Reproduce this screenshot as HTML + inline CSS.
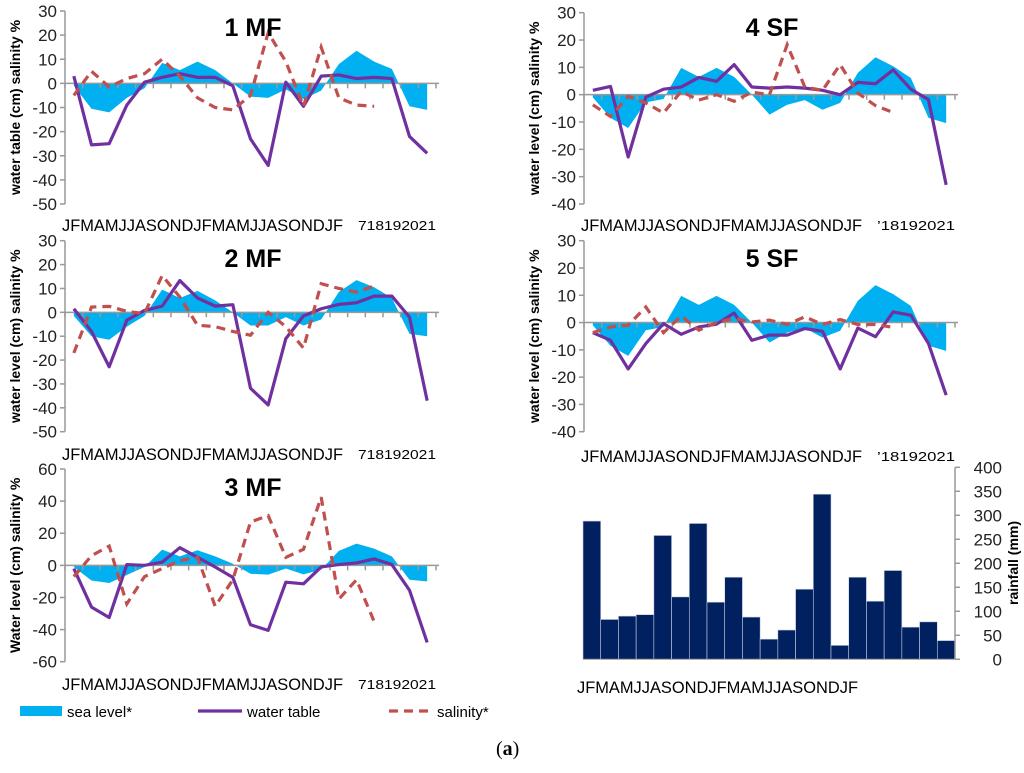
<!DOCTYPE html>
<html><head><meta charset="utf-8"><style>
body{margin:0;background:#fff;width:1024px;height:768px;overflow:hidden}
svg{font-family:"Liberation Sans",sans-serif}
</style></head><body>
<svg id="s" width="1024" height="768"></svg>
<script>
const monthLabel="JFMAMJJASONDJFMAMJJASONDJF";
const p1Sea=[-1,-10.5,-12,-6,-2,8.5,5.5,9,5.5,0,-5.5,-6,-2.5,-6.5,-3,8,13.5,9,6,-9.5,-11];
const p1Water=[3,-25.5,-25,-9,0.5,2.5,4,2.5,2.5,-1,-23,-34,0.5,-9.5,3,3.5,2,2.5,2,-22,-29];
const p1Sal=[-5,5,-1.5,2,4,10,3,-6,-10,-11,-5,21,9,-9.5,15,-6,-9,-9.5];
const p2Sea=[-1.5,-10,-11.5,-6,-1.5,9.5,6,9,5,0,-5.5,-5.5,-2,-5.5,-3,8.5,13.5,10.5,6,-9,-10];
const p2Water=[1.5,-8,-22.8,-3.3,0.8,2.6,13.3,6,2.6,3.2,-31.8,-38.8,-11,-1.5,1.5,3.3,4,6.8,6.8,-2,-37];
const p2Sal=[-17,2.2,2.5,0.4,-0.5,15.4,6.4,-5.4,-6,-8,-9.6,0,-6,-15,12,10,8.5,11];
const p3Sea=[-1,-9.4,-11,-6,-1,9.8,5.6,9.4,5.6,1,-5.2,-5.8,-2,-5.6,-2.7,9,13.5,10.4,5.6,-9,-10];
const p3Water=[-2,-26,-32.5,0.5,0,2,11,5,-1,-7.5,-37,-40.5,-10.5,-11.5,-1,0.5,1.5,4,0.5,-15.5,-48];
const p3Sal=[-7,6,12,-24,-7,-2,3,5,-25.5,-9,27,31,5,10,42.5,-21,-9,-35];
const p4Sea=[-1,-8.5,-12.2,-2.8,-1.6,9.8,6.5,9.8,6.5,0,-7.3,-3.7,-2,-5.5,-3,8,13.7,10.4,6.1,-8.5,-10.4];
const p4Water=[1.6,3,-22.8,-0.9,2,2.8,6.3,4.9,11,2.8,2.4,2.8,2.4,1.6,0,4.5,4,9.1,2,-1.8,-33];
const p4Sal=[-3.7,-8,-0.6,-3,-6.7,1.2,-2,0,-2.4,0.9,0,18.3,2.8,1.6,11,0.6,-4,-6.5];
const p5Sea=[-1,-8.5,-12.2,-2.8,-1.6,9.8,6.5,9.8,6.5,0,-7.3,-3.7,-2,-5.5,-3,8,13.7,10.4,6.1,-8.5,-10.4];
const p5Water=[-3.7,-6.5,-17,-7.7,-0.4,-4.3,-1.6,-0.6,3.5,-6.5,-4.6,-4.6,-2.2,-3.2,-17,-2,-5.2,3.9,2.7,-7.7,-26.6];
const p5Sal=[-3.7,-1.6,-1,5.7,-3.7,2.4,-2.8,0,1.5,0.2,0.9,-0.7,2.1,-0.7,1.1,-0.7,-0.7,-1.8];
const rainfall=[288,83,90,93,258,130,283,119,171,88,42,61,146,344,29,171,121,185,67,78,39];
const rainTicks=[0,50,100,150,200,250,300,350,400];

const S=document.getElementById('s');const NS='http://www.w3.org/2000/svg';
function mk(t,a,txt){const e=document.createElementNS(NS,t);for(const k in a)e.setAttribute(k,a[k]);if(txt!=null)e.textContent=txt;S.appendChild(e);return e;}

function panel(o){
  const N=21,x0=o.x0,x1=o.x1,bw=(x1-x0)/N;
  const Y=v=>o.yTop+(o.max-v)/(o.max-o.min)*(o.yBot-o.yTop);
  const X=i=>x0+bw*(i+0.5);
  // sea area
  let d='M'+X(0)+','+Y(0);o.sea.forEach((v,i)=>d+=' L'+X(i)+','+Y(v));d+=' L'+X(N-1)+','+Y(0)+' Z';
  let e=mk('path',{d:d,fill:'#00B0F0'});
  
  
  // axes
  e=mk('line',{x1:x0,y1:o.yTop,x2:x0,y2:o.yBot,stroke:'#999','stroke-width':1.5});
  
  
  for(let v=o.min;v<=o.max;v+=o.step){
    mk('line',{x1:x0-5,y1:Y(v),x2:x0,y2:Y(v),stroke:'#999','stroke-width':1.5});
    e=mk('text',{x:x0-8,y:Y(v)+6,'text-anchor':'end','font-size':17,fill:'#222'},v);
    
    
  }
  e=mk('line',{x1:x0,y1:Y(0),x2:x1+3,y2:Y(0),stroke:'#999','stroke-width':1.5});
  
  
  for(let i=0;i<=N;i++)mk('line',{x1:x0+bw*i,y1:Y(0),x2:x0+bw*i,y2:Y(0)+5,stroke:'#999','stroke-width':1.5});
  // water
  e=mk('polyline',{points:o.water.map((v,i)=>X(i)+','+Y(v)).join(' '),fill:'none',stroke:'#7030A0','stroke-width':3.2,'stroke-linejoin':'round'});
  
  
  e=mk('polyline',{points:o.sal.map((v,i)=>X(i)+','+Y(v)).join(' '),fill:'none',stroke:'#C0504D','stroke-width':3.2,'stroke-dasharray':'9 6'});
  
  
  e=mk('text',{x:o.tx,y:o.ty,'text-anchor':'middle','font-size':25,'font-weight':'bold'},o.title);
  
  
  e=mk('text',{transform:'translate('+o.lx+','+((o.yTop+o.yBot)/2)+') rotate(-90)','text-anchor':'middle','font-size':14,'font-weight':'bold'},o.ylab);
  
  
  e=mk('text',{x:x0-3,y:o.cy,'font-size':17,textLength:281,lengthAdjust:'spacingAndGlyphs'},monthLabel);
  
  
  e=mk('text',{x:x1-78,y:o.cy-1,'font-size':13,textLength:78,lengthAdjust:'spacingAndGlyphs'},o.yr);
  
  
}
panel({x0:65,x1:436,yTop:11,yBot:204,max:30,min:-50,step:10,sea:p1Sea,water:p1Water,sal:p1Sal,title:'1 MF',tx:253,ty:36,lx:20,ylab:'water table (cm) salinity %',cy:231,yr:'718192021'});
panel({x0:65,x1:436,yTop:240.7,yBot:431.7,max:30,min:-50,step:10,sea:p2Sea,water:p2Water,sal:p2Sal,title:'2 MF',tx:253,ty:267,lx:20,ylab:'water level (cm) salinity %',cy:460,yr:'718192021'});
panel({x0:65,x1:436,yTop:469,yBot:661.7,max:60,min:-60,step:20,sea:p3Sea,water:p3Water,sal:p3Sal,title:'3 MF',tx:253,ty:496,lx:20,ylab:'Water level (cm) salinity %',cy:690,yr:'718192021'});
panel({x0:584,x1:955,yTop:12.7,yBot:204,max:30,min:-40,step:10,sea:p4Sea,water:p4Water,sal:p4Sal,title:'4 SF',tx:772,ty:36,lx:539,ylab:'water level (cm) salinity %',cy:231,yr:'\u201918192021'});
panel({x0:584,x1:955,yTop:240.7,yBot:431.7,max:30,min:-40,step:10,sea:p5Sea,water:p5Water,sal:p5Sal,title:'5 SF',tx:772,ty:267,lx:539,ylab:'water level (cm) salinity %',cy:462,yr:'\u201918192021'});

// rainfall
(function(){
  const x0=583,x1=955,yT=467.3,yB=659.3,N=21,bw=(x1-x0)/N;
  const Y=v=>yB-v/400*(yB-yT);
  rainfall.forEach((v,i)=>{
    const e=mk('rect',{x:x0+bw*i,y:Y(v),width:bw,height:yB-Y(v),fill:'#002060',stroke:'#c8d0e0','stroke-width':0.6});
    
    
  });
  let e=mk('line',{x1:x1,y1:yT,x2:x1,y2:yB,stroke:'#999','stroke-width':1.5});
  
  
  mk('line',{x1:x0,y1:yB,x2:x1,y2:yB,stroke:'#999','stroke-width':1});
  rainTicks.forEach(v=>{
    mk('line',{x1:x1,y1:Y(v),x2:x1+5,y2:Y(v),stroke:'#999','stroke-width':1.5});
    const t=mk('text',{x:x1+47,y:Y(v)+6,'text-anchor':'end','font-size':17,fill:'#222'},v);
    
    
  });
  e=mk('text',{transform:'translate(1018,563) rotate(-90)','text-anchor':'middle','font-size':14,'font-weight':'bold'},'rainfall (mm)');
  
  
  e=mk('text',{x:577,y:693,'font-size':17,textLength:281,lengthAdjust:'spacingAndGlyphs'},monthLabel);
  
  
})();
</script>
<svg width="1024" height="768" style="position:absolute;left:0;top:0">
 <rect x="20" y="706" width="42" height="10" fill="#00B0F0"/>
 <text x="67" y="717" font-size="15" font-family="Liberation Sans, sans-serif">sea level*</text>
 <line x1="198" y1="711" x2="242" y2="711" stroke="#7030A0" stroke-width="3.2"/>
 <text x="247" y="717" font-size="15" font-family="Liberation Sans, sans-serif">water table</text>
 <line x1="389" y1="711" x2="431" y2="711" stroke="#C0504D" stroke-width="3.2" stroke-dasharray="9 6"/>
 <text x="437" y="717" font-size="15" font-family="Liberation Sans, sans-serif">salinity*</text>
 <text x="496" y="755" font-size="20" font-family="Liberation Serif, serif">(<tspan font-weight="bold">a</tspan>)</text>
</svg>
</body></html>
